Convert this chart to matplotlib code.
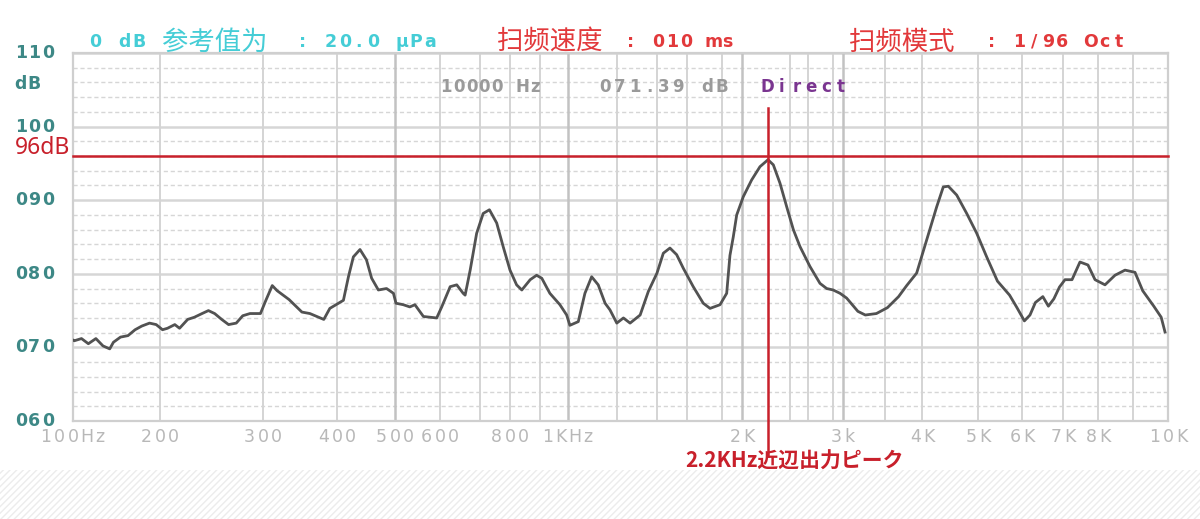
import numpy as np
import matplotlib
matplotlib.use("Agg")
import matplotlib.pyplot as plt
from matplotlib.patches import Rectangle
from matplotlib import transforms

# ---------------- data ----------------
FREQ = [100, 101, 107, 113, 120, 127, 134, 138, 146, 155, 164, 173, 184, 194,
        202, 206, 212, 216, 223, 229, 236, 242, 248, 255, 262, 270, 277, 285,
        297, 303, 311, 317, 332, 349, 360, 380, 389, 410, 418, 426, 437, 448,
        457, 469, 484, 497, 502, 517, 531, 542, 561, 592, 604, 624, 640, 656,
        661, 674, 691, 710, 730, 754, 776, 800, 821, 838, 866, 888, 906, 934,
        970, 995, 1007, 1039, 1065, 1092, 1119, 1148, 1169, 1199, 1230, 1262,
        1312, 1354, 1400, 1440, 1483, 1528, 1574, 1634, 1690, 1729, 1788, 1845,
        1877, 1910, 1945, 2010, 2072, 2136, 2200, 2247, 2307, 2369, 2436, 2509,
        2615, 2694, 2748, 2803, 2939, 3040, 3167, 3254, 3388, 3527, 3673, 3783,
        3923, 4076, 4241, 4354, 4442, 4593, 4780, 4975, 5183, 5420, 5699, 5876,
        6054, 6183, 6310, 6489, 6626, 6764, 6908, 7053, 7245, 7468, 7699, 7910,
        8191, 8470, 8761, 9054, 9267, 9581, 9797, 9910]
SPL = [71.0, 70.9, 71.2, 70.5, 71.2, 70.2, 69.8, 70.7, 71.4, 71.6, 72.4, 72.9, 73.3, 73.1,
       72.4, 72.6, 73.1, 72.6, 73.8, 74.1, 74.6, 75.0, 74.6, 73.8, 73.1, 73.3, 74.3, 74.6,
       74.6, 76.3, 78.4, 77.7, 76.5, 74.8, 74.6, 73.8, 75.3, 76.4, 79.6, 82.3, 83.3, 81.9,
       79.4, 77.8, 78.0, 77.35, 76.0, 75.8, 75.5, 75.8, 74.2, 74.0, 75.5, 78.25, 78.5, 77.35,
       77.1, 80.5, 85.5, 88.2, 88.7, 86.9, 83.7, 80.5, 78.5, 77.8, 79.2, 79.8, 79.4, 77.35,
       75.8, 74.4, 73.0, 73.5, 77.35, 79.6, 78.5, 76.0, 75.1, 73.3, 74.0, 73.3,
       74.4, 77.6, 80.1, 82.8, 83.5, 82.6, 80.75, 78.25, 76.0, 75.3, 75.8, 77.35,
       82.5, 85.0, 88.0, 90.5, 92.75, 94.55, 95.5, 94.8, 92.3, 89.1, 86.0, 83.7,
       81.0, 78.7, 78.0, 77.8, 77.35, 76.7, 74.9, 74.4, 74.6, 75.4, 76.9, 78.4,
       80.1, 84.6, 89.1, 91.8, 91.9, 90.7, 88.2, 85.5, 82.3, 79.0, 77.1, 75.4,
       73.6, 74.4, 76.1, 76.9, 75.6, 76.6, 78.2, 79.2, 79.2, 81.6, 81.2, 79.2,
       78.5, 79.8, 80.5, 80.2, 77.7, 75.6, 74.1, 72.1]

X_TICKS = [100, 200, 300, 400, 500, 600, 800, 1000, 2000, 3000, 4000, 5000,
           6000, 7000, 8000, 10000]
X_LABELS = ["100Hz", "200", "300", "400", "500", "600", "800", "1KHz", "2K",
            "3k", "4K", "5K", "6K", "7K", "8K", "10K"]
Y_TICKS = [60, 70, 80, 90, 100, 105.8, 110]
Y_LABELS = ["060", "070", "080", "090", "100", "dB", "110"]
GRID_F = [200, 300, 400, 500, 600, 700, 800, 900, 1000, 1200, 1400, 1600, 1800,
          2000, 2400, 2600, 2800, 3000, 3500, 4000, 5000, 6000, 7000, 8000, 9000]
STRONG_F = [500, 1000, 2000, 3000]
PEAK_F = 2200
PEAK_DB = 96

# axis calibration of the (non-logarithmic) analyser frequency axis
CAL_F = [100, 200, 300, 400, 500, 600, 700, 800, 900, 1000, 1200, 1400, 1600,
         1800, 2000, 2200, 2400, 2600, 2800, 3000, 4000, 5000, 6000, 7000, 8000,
         9000, 10000]
CAL_PX = [73, 160, 263, 337, 395, 440, 480, 510, 540, 568, 617, 657, 687, 722,
          742, 768, 790, 808, 833, 843, 922, 978, 1022, 1063, 1098, 1133, 1168]

LF = np.log10(np.array(CAL_F, float))
PP = (np.array(CAL_PX, float) - 73.0) / 1095.0


def fwd(f):
    f = np.asarray(f, float)
    return np.interp(np.log10(np.clip(f, 1e-6, None)), LF, PP)


def inv(p):
    p = np.asarray(p, float)
    return 10 ** np.interp(p, PP, LF)


W, H = 1200, 519
fig = plt.figure(figsize=(W / 100, H / 100), dpi=100)
fig.patch.set_facecolor("white")

# faint diagonal watermark stripes at the bottom
plt.rcParams["hatch.linewidth"] = 1.0
fig.patches.append(Rectangle((0, 0), 1, 1 - 470 / H, transform=fig.transFigure,
                             facecolor="white", edgecolor="#ececec", hatch="/////",
                             lw=0, zorder=-10))

ax = fig.add_axes([73 / W, 1 - 421 / H, 1095 / W, 368 / H])
ax.set_xscale("function", functions=(fwd, inv))
ax.set_xlim(100, 10000)
ax.set_ylim(60, 110)
ax.set_facecolor("white")

# grid
for y in range(62, 110, 2):
    if y % 10:
        ax.axhline(y, color="#d6d6d6", lw=1.0, ls=(0, (3, 2)), zorder=1)
for y in range(60, 111, 10):
    ax.axhline(y, color="#d6d6d6", lw=1.8, zorder=1)
for f in GRID_F:
    c = "#c2c2c2" if f in STRONG_F else "#d4d4d4"
    ax.axvline(f, color=c, lw=1.8 if f in STRONG_F else 1.4, zorder=1)
for s in ax.spines.values():
    s.set_color("#cfcfcf")
    s.set_linewidth(1.6)

# response curve
ax.plot(FREQ, SPL, color="#525252", lw=2.0, zorder=3, solid_joinstyle="round")

# red markers
red = "#c8202b"
ax.plot([100, 10000], [PEAK_DB, PEAK_DB], color=red, lw=1.8, zorder=4, clip_on=False)
ax.plot([PEAK_F, PEAK_F], [102.5, 55.3], color=red, lw=1.8, zorder=4, clip_on=False)

# ticks (labels drawn below in a wide-pitch "pixel font" style)
ax.set_xticks(X_TICKS, [""] * len(X_TICKS))
ax.xaxis.set_minor_locator(matplotlib.ticker.NullLocator())
ax.set_yticks(Y_TICKS, [""] * len(Y_TICKS))
ax.yaxis.set_minor_locator(matplotlib.ticker.NullLocator())
ax.tick_params(length=0)

PIX = "DejaVu Sans"


def spaced(trans, x, y, s, pitch, align="left", **kw):
    """draw string s char by char with a fixed pitch (pixels)."""
    n = len(s)
    start = 0.0 if align == "left" else -n * pitch / 2.0
    for i, ch in enumerate(s):
        if ch == " ":
            continue
        t = transforms.offset_copy(trans, fig=fig, x=start + i * pitch + pitch / 2.0,
                                   y=0, units="dots")
        fig.text(x, y, ch, transform=t, ha="center", va="center", **kw)


ytr = transforms.blended_transform_factory(fig.transFigure, ax.transData)
for v, lab in zip(Y_TICKS, Y_LABELS):
    spaced(ytr, 14 / W, v, lab, 13.5, family=PIX, fontsize=12.5,
           fontweight="bold", color="#3d8886")

xtr = transforms.blended_transform_factory(ax.transData, fig.transFigure)
for f, lab in zip(X_TICKS, X_LABELS):
    spaced(xtr, f, 1 - 437 / H, lab, 13.5, align="center", family=PIX,
           fontsize=12.5, color="#b8b8b8")


def fpx(x, y):
    return x / W, 1 - y / H


ftr = fig.transFigure
cjk = ["Noto Sans CJK SC", "DejaVu Sans"]
cyan = "#45cdd6"
hred = "#e2393b"
hdr = dict(family=PIX, fontsize=12.5, fontweight="bold")

spaced(ftr, *fpx(88, 42), "0 dB", 14.5, color=cyan, **hdr)
fig.text(*fpx(162, 42), "参考值为", family=cjk, fontsize=19, color=cyan, va="center")
spaced(ftr, *fpx(295, 42), ": 20.0 μPa", 14.2, color=cyan, **hdr)

fig.text(*fpx(497, 42), "扫频速度", family=cjk, fontsize=19, color=hred, va="center")
spaced(ftr, *fpx(624, 42), ": 010 ms", 13.8, color=hred, **hdr)
fig.text(*fpx(849, 42), "扫频模式", family=cjk, fontsize=19, color=hred, va="center")
spaced(ftr, *fpx(984, 42), ": 1/96 Oct", 14.2, color=hred, **hdr)

row2 = dict(family=PIX, fontsize=12, fontweight="bold")
spaced(ftr, *fpx(440, 87), "10000 Hz", 12.7, color="#9a9a9a", **row2)
spaced(ftr, *fpx(598, 87), "071.39 dB", 14.6, color="#9a9a9a", **row2)
spaced(ftr, *fpx(760, 87), "Direct", 14.6, color="#7a3590", **row2)

fig.text(*fpx(15, 148), "96dB", family=["Noto Sans", "DejaVu Sans"], fontsize=16.5,
         color=red, va="center")
fig.text(*fpx(795, 461), "2.2KHz近辺出力ピーク", family=["Noto Sans CJK JP", "DejaVu Sans"],
         fontsize=15, fontweight="bold", color=red, ha="center", va="center")

fig.savefig("out.png", dpi=100, facecolor="white")
